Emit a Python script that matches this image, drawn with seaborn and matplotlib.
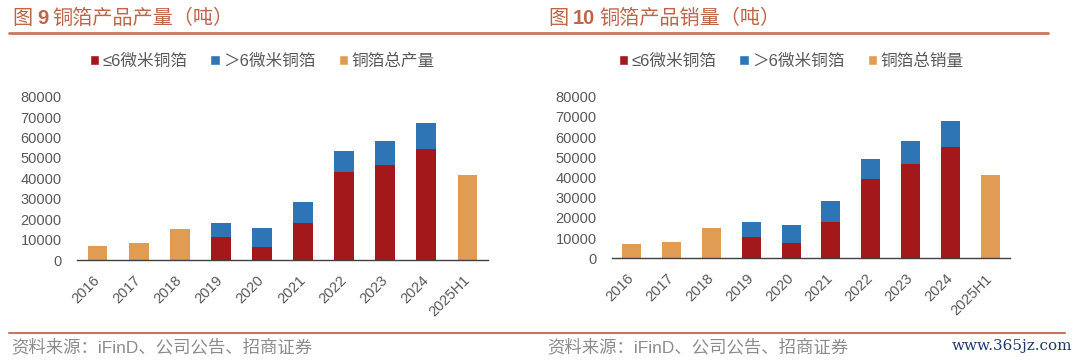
import numpy as np
import pandas as pd
import matplotlib
matplotlib.use("Agg")
import matplotlib.pyplot as plt
from matplotlib.patches import Patch
from matplotlib.lines import Line2D
import seaborn as sns

sns.set_theme(style="white")
plt.rcParams['font.family'] = ['Liberation Sans', 'Noto Sans CJK SC', 'DejaVu Sans']

nan = np.nan
years = ['2016', '2017', '2018', '2019', '2020', '2021', '2022', '2023', '2024', '2025H1']
# 产量 (吨)
prod_le6 = [nan, nan, nan, 11100, 6200, 18000, 42900, 46400, 54400, nan]
prod_gt6 = [nan, nan, nan, 6900, 9300, 10200, 10300, 11900, 12900, nan]
prod_total = [7000, 8200, 15300, nan, nan, nan, nan, nan, nan, 41600]
# 销量 (吨)
sales_le6 = [nan, nan, nan, 10700, 7400, 18000, 39400, 46700, 55100, nan]
sales_gt6 = [nan, nan, nan, 7100, 9100, 10200, 9900, 11200, 13000, nan]
sales_total = [7100, 7900, 15200, nan, nan, nan, nan, nan, nan, 41100]

RED = '#A3181A'
BLUE = '#2E75B6'
ORANGE = '#E09C52'
TITLE_C = '#C0654A'
LINE_C = '#C8775A'
GRAY = '#595959'
SRC_C = '#8C8C8C'

fig = plt.figure(figsize=(10.8, 3.6), dpi=100)
W, H = 1080.0, 360.0


def draw_panel(ax, le6, gt6, total, label_total):
    df = pd.DataFrame({'year': years, 'le6': le6, 'gt6': gt6, 'total': total})
    has_split = df['le6'].notna()
    # 堆叠: 上层高度 = ≤6 + >6, 无拆分年份用总量
    df['top'] = np.where(has_split, df['le6'] + df['gt6'], df['total'])
    top_colors = {y: (BLUE if s else ORANGE) for y, s in zip(df['year'], has_split)}
    sns.barplot(data=df, x='year', y='top', hue='year', palette=top_colors, order=years,
                legend=False, width=0.48, saturation=1, linewidth=0, ax=ax)
    sns.barplot(data=df, x='year', y='le6', color=RED, order=years,
                width=0.48, saturation=1, linewidth=0, ax=ax)
    ax.set_xlim(-0.5, len(years) - 0.5)
    ax.set_ylim(0, 80000)
    ax.set_yticks(range(0, 80001, 10000))
    ax.set_xlabel('')
    ax.set_ylabel('')
    for s in ['top', 'right', 'left']:
        ax.spines[s].set_visible(False)
    ax.spines['bottom'].set_color('#404040')
    ax.spines['bottom'].set_linewidth(1.0)
    ax.tick_params(axis='y', length=0, labelsize=10.5, labelcolor=GRAY, pad=11)
    ax.tick_params(axis='x', which='major', length=0, labelsize=10.5, labelcolor=GRAY, pad=13)
    ax.set_xticks(np.arange(-0.5, len(years)), minor=True)
    ax.tick_params(axis='x', which='minor', direction='in', length=4, color='#404040', width=1)
    for lab in ax.get_xticklabels():
        lab.set_rotation(45)
        lab.set_ha('right')
        lab.set_rotation_mode('anchor')
        lab.set_va('center')
    handles = [Patch(facecolor=RED), Patch(facecolor=BLUE), Patch(facecolor=ORANGE)]
    names = ['≤6微米铜箔', '＞6微米铜箔', label_total]
    return handles, names


ax1 = fig.add_axes([77 / W, (H - 260) / H, (488 - 77) / W, 163.3 / H])
h1, n1 = draw_panel(ax1, prod_le6, prod_gt6, prod_total, '铜箔总产量')
ax2 = fig.add_axes([612 / W, (H - 258.3) / H, (1010 - 612) / W, 161.7 / H])
h2, n2 = draw_panel(ax2, sales_le6, sales_gt6, sales_total, '铜箔总销量')

leg_kw = dict(loc='center', ncol=3, frameon=False, fontsize=12, handlelength=0.55,
              handleheight=0.55, handletextpad=0.2, columnspacing=1.4, labelcolor=GRAY)
fig.legend(h1, n1, bbox_to_anchor=(262 / W, 1 - 61 / H), **leg_kw)
fig.legend(h2, n2, bbox_to_anchor=(791 / W, 1 - 61 / H), **leg_kw)


def title(x, num, rest):
    y = 1 - 18 / H
    fig.text(x / W, y, '图', fontsize=14.5, color=TITLE_C, va='center', ha='left')
    fig.text((x + 25) / W, y, num, fontsize=14.5, color=TITLE_C, va='center',
             ha='left', fontweight='bold')
    fig.text((x + 25 + 11 * len(num) + 4) / W, y, rest, fontsize=14.5, color=TITLE_C,
             va='center', ha='left')


title(12, '9', '铜箔产品产量（吨）')
title(548, '10', '铜箔产品销量（吨）')

fig.add_artist(Line2D([9 / W, 1048 / W], [1 - 33 / H, 1 - 33 / H], color=LINE_C, lw=2))
fig.add_artist(Line2D([9 / W, 1065 / W], [1 - 333 / H, 1 - 333 / H], color=LINE_C, lw=1.5))

src = '资料来源：iFinD、公司公告、招商证券'
fig.text(11 / W, 1 - 347 / H, src, fontsize=12.5, color=SRC_C, va='center', ha='left')
fig.text(547 / W, 1 - 347 / H, src, fontsize=12.5, color=SRC_C, va='center', ha='left')
fig.text(1072 / W, 1 - 346 / H, 'www.365jz.com', fontsize=11, color='#1F3A6E',
         family='DejaVu Serif', va='center', ha='right')

fig.savefig('out.png', dpi=100)
